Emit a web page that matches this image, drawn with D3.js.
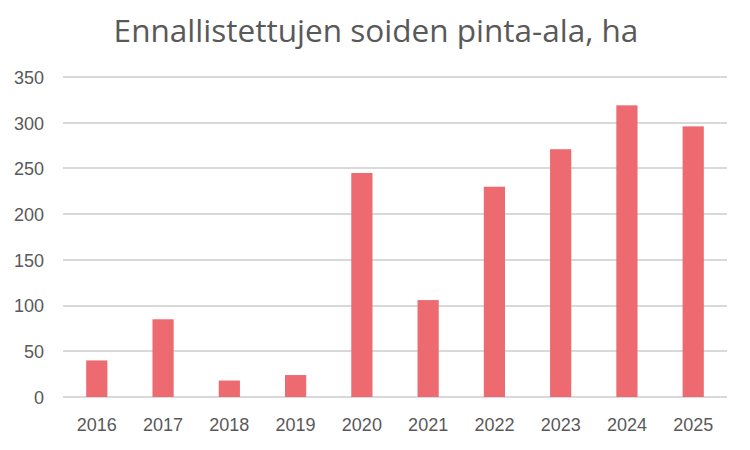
<!DOCTYPE html>
<html lang="fi">
<head>
<meta charset="utf-8">
<title>Ennallistettujen soiden pinta-ala</title>
<style>
body { margin: 0; background: #fff; }
.title { fill: #595959; font-family: "Open Sans", sans-serif; font-size: 28px; }
.axis text { fill: #595959; font-family: "Liberation Sans", Arial, sans-serif; font-size: 18px; }
.grid line { stroke: #d9d9d9; stroke-width: 2px; shape-rendering: crispEdges; }
.bar { fill: #ec6a70; }
</style>
</head>
<body>
<div id="chart"></div>
<script src="https://d3js.org/d3.v7.min.js"></script>
<script>
  // data
  var years = ["2016", "2017", "2018", "2019", "2020", "2021", "2022", "2023", "2024", "2025"];
  var hectares = [40, 85, 18, 24, 245, 106, 230, 271, 319, 296];
  var yTicks = [0, 50, 100, 150, 200, 250, 300, 350];

  var W = 750, H = 450;
  var plotL = 63, plotR = 727, plotT = 77, plotB = 397;

  var svg = d3.select("#chart").append("svg")
    .attr("width", W)
    .attr("height", H);

  var x = d3.scaleBand().domain(years).range([plotL, plotR]).paddingInner(0.68).paddingOuter(0.35);
  var y = d3.scaleLinear().domain([0, 350]).range([plotB, plotT]);

  // gridlines
  svg.append("g")
    .attr("class", "grid")
    .selectAll("line")
    .data(yTicks)
    .enter().append("line")
    .attr("x1", plotL)
    .attr("x2", plotR)
    .attr("y1", function(d) { return y(d); })
    .attr("y2", function(d) { return y(d); });

  // y axis labels
  var yAxis = svg.append("g")
    .attr("class", "axis")
    .attr("transform", "translate(" + (plotL - 19) + ",0)")
    .call(d3.axisLeft(y).tickValues(yTicks).tickSize(0).tickPadding(0));
  yAxis.select(".domain").remove();
  yAxis.selectAll("text").attr("dy", "0.35em");

  // bars
  svg.selectAll(".bar")
    .data(hectares)
    .enter().append("rect")
    .attr("class", "bar")
    .attr("x", function(d, i) { return x(years[i]); })
    .attr("width", x.bandwidth())
    .attr("y", function(d) { return y(d); })
    .attr("height", function(d) { return y(0) - y(d); });

  // x axis labels
  var xAxis = svg.append("g")
    .attr("class", "axis")
    .attr("transform", "translate(0," + plotB + ")")
    .call(d3.axisBottom(x).tickSize(0).tickPadding(0));
  xAxis.select(".domain").remove();
  xAxis.selectAll("text").attr("dy", null).attr("y", 34);

  // title
  var title = svg.append("text")
    .attr("class", "title")
    .attr("x", 376)
    .attr("y", 42)
    .attr("text-anchor", "middle")
    .text("Ennallistettujen soiden pinta-ala, ha");
  var tw = title.node().getComputedTextLength();
  title.style("font-size", (28 * 525 / tw) + "px");
</script>
</body>
</html>
